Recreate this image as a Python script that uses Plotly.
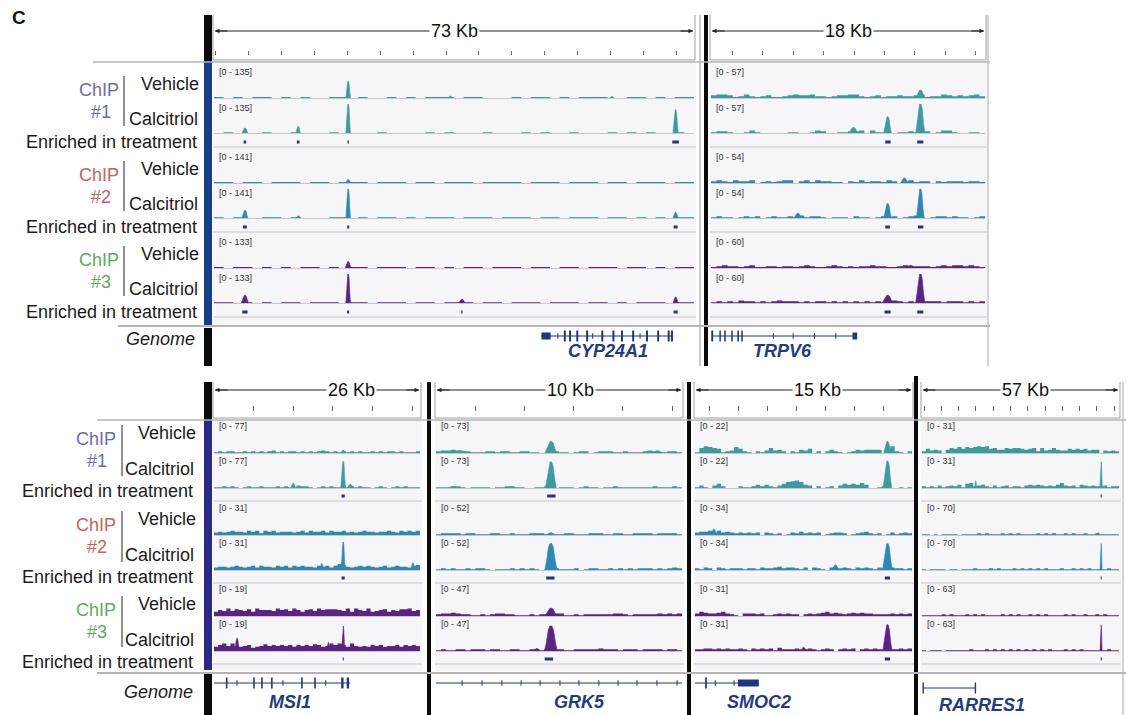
import plotly.graph_objects as go

W, H = 1126, 715

# ---------------- data ----------------
genes = ["CYP24A1", "TRPV6", "MSI1", "GRK5", "SMOC2", "RARRES1"]
span_kb = [73, 18, 26, 10, 15, 57]
span_labels = ["73 Kb", "18 Kb", "26 Kb", "10 Kb", "15 Kb", "57 Kb"]
ruler_tick0_kb = [0.3, 1.4, 0.0, 1.6, 1.0, 0.6]
ruler_dtick_kb = [5, 2, 5, 2, 2, 5]

chip_labels = ["ChIP", "ChIP", "ChIP"]
chip_numbers = ["#1", "#2", "#3"]
track_labels = ["Vehicle", "Calcitriol", "Enriched in treatment"]

# data range of each ChIP (same for Vehicle and Calcitriol tracks)
range_CYP24A1 = [135, 141, 133]
range_TRPV6 = [57, 54, 60]
range_MSI1 = [77, 31, 19]
range_GRK5 = [73, 52, 47]
range_SMOC2 = [22, 34, 31]
range_RARRES1 = [31, 70, 63]

# background coverage, one digit per bin: level = digit * 3 % of the track range
# order: ChIP1 vehicle, ChIP1 calcitriol, ChIP2 vehicle, ChIP2 calcitriol, ChIP3 vehicle, ChIP3 calcitriol
bg_CYP24A1 = [
    "10101101010011010010101110110001011010111001101011",
    "01000100100010000100001010001000101001000101010010",
    "11011011101101110111011011101111011101110110111011",
    "10100110100011010110101110111011101101110110101011",
    "10110101011010110111011010110111011011011101101011",
    "11010101101110110111011011101101110111011010111011",
]
bg_TRPV6 = [
    "34431242123112343342212334421231223223412243232342",
    "12210013100000110013200112230311001121220133100110",
    "23213223012123302313221102131221320231220212221221",
    "12110121201211213122101110211012120123101221211012",
    "12322123112212212321123212122322112322221232332321",
    "12121322121232221212212121212121232121222212221212",
]
bg_MSI1 = [
    "12122112121212312122121212321212121211212122121112",
    "11212101211211121211322101212112121211012101212111",
    "34345443545254534443453544535445343454434454354545",
    "34434543453544354535454435453576434545434534544356",
    "57696876859777697869757869788876959769567857688967",
    "57969656745686767675767687569797596565767566757676",
]
bg_GRK5 = [
    "23343221112212211221100121101220122211211123211221",
    "11122101111011221100112101110121101121111111211121",
    "12222122111221121112221011221112221122112222122221",
    "12121121221011121212101121112012211212121222121232",
    "23343221121233221112122233112122222233212222232323",
    "12112212221221122112212222112222232221222122221221",
]
bg_SMOC2 = [
    "16876512375210213634202143502024210124344440582102",
    "13103520002112424213578974302012035454640012700101",
    "34453534323232303212013242323012332012342120131232",
    "21320321222122132234233213032103223213232132032212",
    "35433453210333231123232202323453432343433222232323",
    "22332323223213232314222322321232023230232322222323",
]
bg_RARRES1 = [
    "25343046575767878564465665456263464335454534403232",
    "21213123241562342131231221343432324632314323223122",
    "11010111101111212111212121111212121121211211211111",
    "10111101101112111212111212121212111211212121111211",
    "11111212111212121111212121121212111121211211212111",
    "10111011111121112121212121212121211121212111111211",
]

# peaks: (centre kb, height in track units, half-width kb), same track order as above
peaks_CYP24A1 = [
    [(20.4, 75, 0.35), (35.9, 9, 0.4), (60.5, 7, 0.4)],
    [(4.7, 23, 0.45), (12.8, 30, 0.35), (20.4, 135, 0.35), (70.2, 108, 0.4)],
    [(20.4, 16, 0.4)],
    [(4.7, 38, 0.45), (12.8, 10, 0.4), (20.4, 141, 0.35), (70.2, 27, 0.4)],
    [(20.4, 28, 0.45)],
    [(4.7, 35, 0.55), (20.4, 133, 0.35), (37.7, 17, 0.5), (70.2, 27, 0.4)],
]
peaks_TRPV6 = [
    [(13.75, 15, 0.3)],
    [(9.35, 11, 0.3), (11.6, 32, 0.25), (13.75, 57, 0.3)],
    [(12.7, 9, 0.25)],
    [(5.7, 9, 0.25), (11.6, 27, 0.25), (13.75, 54, 0.25)],
    [(13.1, 5, 0.3)],
    [(11.6, 16, 0.35), (13.75, 60, 0.3)],
]
peaks_MSI1 = [
    [(16.3, 8, 0.3)],
    [(10.0, 13, 0.3), (16.3, 73, 0.3), (17.2, 10, 0.4)],
    [],
    [(13.6, 7, 0.25), (16.3, 31, 0.25), (25.1, 8, 0.25)],
    [],
    [(2.9, 8.5, 0.3), (14.4, 6, 0.2), (16.3, 17, 0.2)],
]
peaks_GRK5 = [
    [(1.0, 6, 0.35), (4.67, 30, 0.24), (9.0, 6, 0.25)],
    [(0.7, 3.5, 0.2), (4.67, 68, 0.22)],
    [(4.67, 4, 0.2)],
    [(4.67, 49, 0.25)],
    [(4.67, 13, 0.25)],
    [(4.1, 4, 0.15), (4.67, 42, 0.26)],
]
peaks_SMOC2 = [
    [(13.3, 9, 0.25)],
    [(13.3, 21, 0.3)],
    [(1.3, 7, 0.2)],
    [(9.7, 6, 0.25), (13.3, 32, 0.34)],
    [],
    [(7.5, 4, 0.2), (13.3, 29, 0.32)],
]
peaks_RARRES1 = [
    [],
    [(15.5, 8, 0.3), (51.8, 29, 0.35)],
    [(51.0, 6, 0.4)],
    [(51.8, 66, 0.3)],
    [],
    [(51.8, 59, 0.3)],
]

# enriched-in-treatment regions (start kb, end kb) for ChIP1..3
enriched_CYP24A1 = [[(4.5, 4.9), (12.6, 13.0), (20.3, 20.5), (69.7, 70.7)],
                    [(4.4, 5.0), (20.25, 20.55), (69.9, 70.5)],
                    [(4.3, 5.1), (20.25, 20.55), (37.6, 37.8), (69.9, 70.5)]]
enriched_TRPV6 = [[(11.45, 11.8), (13.55, 13.95)],
                  [(11.45, 11.75), (13.6, 13.95)],
                  [(11.4, 11.8), (13.55, 13.95)]]
enriched_MSI1 = [[(16.1, 16.5)], [(16.1, 16.5)], [(16.25, 16.38)]]
enriched_GRK5 = [[(4.52, 4.86)], [(4.48, 4.82)], [(4.42, 4.76)]]
enriched_SMOC2 = [[], [(13.12, 13.48)], [(13.12, 13.48)]]
enriched_RARRES1 = [[(51.7, 52.0)], [(51.7, 52.0)], [(51.7, 52.0)]]

# gene models (kb): intron span, exons, thick UTR blocks, strand marks, label position
gene_CYP24A1 = dict(span=(49.8, 69.8),
                    exons=[(53.2, 53.5), (54.0, 54.3), (55.1, 55.4), (56.6, 56.9), (58.9, 59.2),
                           (60.6, 60.9), (61.9, 62.2), (63.6, 63.9), (65.7, 66.0), (67.4, 67.7),
                           (69.0, 69.3), (69.5, 69.8)],
                    blocks=[(49.8, 51.2)], marks=[52.3, 57.6, 64.8], label_kb=59.9)
gene_TRPV6 = dict(span=(0.07, 9.6),
                  exons=[(0.02, 0.14), (0.55, 0.65), (0.87, 0.97), (1.33, 1.43), (1.73, 1.83), (1.99, 2.09)],
                  blocks=[(9.3, 9.6)], marks=[4.1, 5.4, 6.8, 8.2], label_kb=4.7)
gene_MSI1 = dict(span=(0.0, 17.2),
                 exons=[(1.5, 1.7), (4.95, 5.15), (5.95, 6.15), (7.2, 7.4), (11.0, 11.2),
                        (12.65, 12.85), (16.05, 16.35), (16.75, 17.05)],
                 blocks=[], marks=[2.9, 8.7, 14.1], label_kb=9.6)
gene_GRK5 = dict(span=(0.0, 10.0), exons=[], blocks=[],
                 marks=[1.06, 1.87, 2.68, 3.46, 4.23, 5.04, 5.81, 6.62, 7.4, 8.17, 8.98, 9.8],
                 label_kb=5.85)
gene_SMOC2 = dict(span=(-0.05, 4.4), exons=[(0.7, 0.82)], blocks=[(2.97, 4.41)],
                  marks=[1.4, 2.7], label_kb=4.4)
gene_RARRES1 = dict(span=(0.3, 15.5), exons=[(0.15, 0.55), (15.25, 15.65)], blocks=[],
                    marks=[], label_kb=17.5)

ranges = [range_CYP24A1, range_TRPV6, range_MSI1, range_GRK5, range_SMOC2, range_RARRES1]
backgrounds = [bg_CYP24A1, bg_TRPV6, bg_MSI1, bg_GRK5, bg_SMOC2, bg_RARRES1]
peaks = [peaks_CYP24A1, peaks_TRPV6, peaks_MSI1, peaks_GRK5, peaks_SMOC2, peaks_RARRES1]
enriched = [enriched_CYP24A1, enriched_TRPV6, enriched_MSI1, enriched_GRK5, enriched_SMOC2, enriched_RARRES1]
gene_models = [gene_CYP24A1, gene_TRPV6, gene_MSI1, gene_GRK5, gene_SMOC2, gene_RARRES1]

# ---------------- style / layout ----------------
FONT = "Liberation Sans, Arial, Helvetica, sans-serif"
TRACK_COLORS = ["#3a9c9f", "#2a89b5", "#5a2384"]
CHIP_COLORS = ["#6b6bb5", "#cb615d", "#5cab5c"]
ENR_COLOR = "#2b2d8a"
GENE_COLOR = "#1e3585"
NAME_COLOR = "#1f3a88"
BG_LEVEL = 0.03
# peak glyph outline (relative offset, relative height)
PEAK_PROFILE = [(-1.0, 0.0), (-0.7, 0.35), (-0.4, 0.85), (-0.15, 1.0), (0.15, 1.0),
                (0.4, 0.85), (0.7, 0.35), (1.0, 0.0)]

# pixel geometry of each panel
PANEL_X = [(214, 694), (711, 985), (214, 420), (436, 682), (695, 912), (922, 1119)]
PANEL_ROW = [0, 0, 1, 1, 1, 1]
KB_LABEL_X = [455, 848, 351, 570, 817, 1025]
ROWS = [
    dict(g0=[62, 147, 232], veh=(6, 36), calc=(42, 71), enr=80, sep=85, lab=(10, 46),
         rtop=15, rbot=60, arrow=31, ticky=55, ticklen=4, gline=336, gname=351,
         bgtop=62, bgbot=325),
    dict(g0=[420, 502, 583], veh=(5, 33), calc=(40, 68), enr=76, sep=81, lab=(6, 41),
         rtop=382, rbot=418, arrow=390, ticky=411, ticklen=5, gline=683, gname=702,
         bgtop=420, bgbot=671),
]
GLINE_OVERRIDE = {5: 688}


def X(p):
    return p / W


def Y(p):
    return 1 - p / H


fig = go.Figure()
axes = {}
counter = [0]


def add_axes(x0, x1, ytop, ybot, xr, yr, xextra=None):
    counter[0] += 1
    k = counter[0]
    s = "" if k == 1 else str(k)
    xa = dict(domain=[X(x0), X(x1)], range=xr, anchor="y" + s, visible=False, fixedrange=True)
    if xextra:
        xa.update(xextra)
    ya = dict(domain=[Y(ybot), Y(ytop)], range=yr, anchor="x" + s, visible=False, fixedrange=True)
    axes["xaxis" + s] = xa
    axes["yaxis" + s] = ya
    return "x" + s, "y" + s


shapes = []
annotations = []


def line(x0, y0, x1, y1, color, width):
    shapes.append(dict(type="line", xref="paper", yref="paper", x0=X(x0), y0=Y(y0), x1=X(x1), y1=Y(y1),
                       line=dict(color=color, width=width), layer="above"))


def rect(x0, y0, x1, y1, fill, lc=None, lw=0, layer="below"):
    shapes.append(dict(type="rect", xref="paper", yref="paper", x0=X(x0), y0=Y(y0), x1=X(x1), y1=Y(y1),
                       fillcolor=fill, line=dict(color=lc or fill, width=lw), layer=layer))


def text(x, y, s, size, color="#1a1a1a", anchor="right", family=FONT, bg=None):
    d = dict(xref="paper", yref="paper", x=X(x), y=Y(y), text=s, showarrow=False,
             xanchor=anchor, yanchor="middle", font=dict(family=family, size=size, color=color))
    if bg:
        d["bgcolor"] = bg
    annotations.append(d)


baseline_x = dict(visible=True, showline=True, linecolor="#c8c8c8", linewidth=1, showticklabels=False,
                  ticks="", showgrid=False, zeroline=False)

for p, name in enumerate(genes):
    x0, x1 = PANEL_X[p]
    row = ROWS[PANEL_ROW[p]]
    kb = span_kb[p]

    # panel background
    rect(x0 - 1, row["bgtop"], x1 + 2, row["bgbot"], "#f6f6f8")

    # ruler
    rx, ry = add_axes(x0, x1, row["ticky"] - 15, row["ticky"], [0, kb], [0, 1],
                      dict(visible=True, showline=False, showgrid=False, zeroline=False,
                           showticklabels=False, ticks="inside", ticklen=row["ticklen"],
                           tickcolor="#666", tickwidth=1, tick0=ruler_tick0_kb[p],
                           dtick=ruler_dtick_kb[p], side="bottom"))
    fig.add_trace(go.Scatter(x=[0, kb], y=[0, 0], mode="markers", marker=dict(opacity=0),
                             xaxis=rx, yaxis=ry, hoverinfo="skip", showlegend=False))
    line(x0 - 1, row["rtop"], x0 - 1, row["rbot"], "#a0a0a0", 1)
    line(x1 + 1, row["rtop"], x1 + 1, row["rbot"], "#a0a0a0", 1)
    line(x0 - 1, row["rbot"], x1 + 1, row["rbot"], "#a0a0a0", 1)
    line(x0 + 1, row["arrow"], x1 - 1, row["arrow"], "#222", 1)
    for xe, axoff in ((x0 + 1, 14), (x1 - 1, -14)):
        annotations.append(dict(xref="paper", yref="paper", x=X(xe), y=Y(row["arrow"]), text="",
                                showarrow=True, ax=axoff, ay=0, arrowhead=2, arrowsize=0.9,
                                arrowwidth=1, arrowcolor="#222"))
    text(KB_LABEL_X[p], row["arrow"], span_labels[p], 18, "#111", anchor="center", bg="white")

    # tracks
    for g in range(3):
        y0 = row["g0"][g]
        scale = ranges[p][g]
        color = TRACK_COLORS[g]
        for t, (tt, tb) in enumerate((row["veh"], row["calc"])):
            idx = 2 * g + t
            tx, ty = add_axes(x0, x1, y0 + tt, y0 + tb, [0, kb], [0, scale], baseline_x)
            levels = [int(c) * BG_LEVEL * scale for c in backgrounds[p][idx]]
            bw = kb / len(levels)
            xs = [i * bw for i in range(len(levels) + 1)]
            ys = levels + [levels[-1]]
            fig.add_trace(go.Scatter(x=xs, y=ys, mode="lines", line=dict(width=0, shape="hv", color=color),
                                     fill="tozeroy", fillcolor=color, xaxis=tx, yaxis=ty,
                                     hoverinfo="skip", showlegend=False))
            px_, py_ = [], []
            for c, h, w in peaks[p][idx]:
                for dx, dy in PEAK_PROFILE:
                    px_.append(c + dx * w)
                    py_.append(h * dy)
                px_.append(None)
                py_.append(None)
            if px_:
                fig.add_trace(go.Scatter(x=px_, y=py_, mode="lines", line=dict(width=0.6, color=color),
                                         fill="toself", fillcolor=color, xaxis=tx, yaxis=ty,
                                         hoverinfo="skip", showlegend=False))
            lab_y = y0 + row["lab"][t]
            text(x0 + 3, lab_y, "[0 - %d]" % scale, 9, "#333", anchor="left")
        # enriched
        ex, ey = add_axes(x0, x1, y0 + row["enr"] - 4, y0 + row["enr"] + 4, [0, kb], [0, 1])
        xs, ys = [], []
        for s0, s1 in enriched[p][g]:
            xs += [s0, s1, None]
            ys += [0.5, 0.5, None]
        if xs:
            fig.add_trace(go.Scatter(x=xs, y=ys, mode="lines", line=dict(width=3, color=ENR_COLOR),
                                     xaxis=ex, yaxis=ey, hoverinfo="skip", showlegend=False))
        line(x0 - 1, y0 + row["sep"], x1 + 2, y0 + row["sep"], "#d6d6d8", 1.5)

    # genome row
    gy = GLINE_OVERRIDE.get(p, row["gline"])
    gx, gyax = add_axes(x0, x1, gy - 7, gy + 7, [0, kb], [-1, 1])
    gm = gene_models[p]
    fig.add_trace(go.Scatter(x=list(gm["span"]), y=[0, 0], mode="lines", line=dict(width=1, color=GENE_COLOR),
                             xaxis=gx, yaxis=gyax, hoverinfo="skip", showlegend=False))
    if gm["marks"]:
        fig.add_trace(go.Scatter(x=gm["marks"], y=[0] * len(gm["marks"]), mode="markers",
                                 marker=dict(symbol="line-ns", size=4, line=dict(width=1, color=GENE_COLOR)),
                                 xaxis=gx, yaxis=gyax, hoverinfo="skip", showlegend=False))
    for key, wid in (("exons", 11), ("blocks", 7)):
        xs, ys = [], []
        for s0, s1 in gm[key]:
            xs += [s0, s1, None]
            ys += [0, 0, None]
        if xs:
            fig.add_trace(go.Scatter(x=xs, y=ys, mode="lines", line=dict(width=wid, color=GENE_COLOR),
                                     xaxis=gx, yaxis=gyax, hoverinfo="skip", showlegend=False))
    annotations.append(dict(xref=gx, yref="paper", x=gm["label_kb"], y=Y(row["gname"] + (3 if p == 5 else 0)),
                            text="<b><i>%s</i></b>" % name, showarrow=False, xanchor="center",
                            yanchor="middle", font=dict(family=FONT, size=18, color=NAME_COLOR)))

# ---- frame decorations ----
# left bars
rect(204, 15, 212, 62, "#0a0a0a", layer="above")
rect(204, 62, 212, 325, "#153f8b", layer="above")
rect(204, 328, 212, 366, "#0a0a0a", layer="above")
rect(204, 382, 212, 420, "#0a0a0a", layer="above")
rect(204, 420, 212, 670, "#29298a", layer="above")
rect(204, 674, 212, 715, "#0a0a0a", layer="above")
# panel separators
rect(704, 15, 708, 366, "#0a0a0a", layer="above")
line(700, 15, 700, 366, "#9a9a9a", 1)
rect(427, 382, 431, 715, "#0a0a0a", layer="above")
rect(687, 382, 691, 715, "#0a0a0a", layer="above")
rect(914, 376, 918, 715, "#0a0a0a", layer="above")
line(988, 15, 988, 366, "#a8a8a8", 1)
line(1123, 382, 1123, 715, "#a8a8a8", 1)
# horizontal rules
line(93, 62, 990, 62, "#b5b5b5", 1.5)
line(118, 326, 990, 326, "#b5b5b5", 2)
line(97, 420, 1126, 420, "#b5b5b5", 1.5)
line(97, 673, 1126, 673, "#b5b5b5", 2)

# panel letter
text(10, 18, "<b>C</b>", 19, "#111", anchor="left")

# left-side track labels
LEFT = [
    dict(g0=[62, 147, 232], veh=22, chip=28, num=50, calc=57, enr=80, br=(14, 64),
         x_chip=121, x_num=101, x_br=124, x_veh=201, x_calc=200, x_enr=199, genome=(197, 339)),
    dict(g0=[420, 506, 591], veh=13, chip=19, num=41, calc=49, enr=71, br=(5, 56),
         x_chip=118, x_num=97, x_br=122, x_veh=198, x_calc=196, x_enr=195, genome=(195, 692)),
]
for L in LEFT:
    for g, y0 in enumerate(L["g0"]):
        text(L["x_chip"], y0 + L["chip"], chip_labels[g], 18, CHIP_COLORS[g])
        text(L["x_num"], y0 + L["num"], chip_numbers[g], 18, CHIP_COLORS[g], anchor="center")
        line(L["x_br"], y0 + L["br"][0], L["x_br"], y0 + L["br"][1], "#222", 1)
        text(L["x_veh"], y0 + L["veh"], track_labels[0], 18)
        text(L["x_calc"], y0 + L["calc"], track_labels[1], 18)
        text(L["x_enr"], y0 + L["enr"], track_labels[2], 18)
    text(L["genome"][0], L["genome"][1], "<i>Genome</i>", 18)

fig.update_layout(width=W, height=H, margin=dict(l=0, r=0, t=0, b=0), paper_bgcolor="white",
                  plot_bgcolor="rgba(0,0,0,0)", showlegend=False, shapes=shapes,
                  annotations=annotations, font=dict(family=FONT), **axes)

fig.write_html("out.html", config={"displayModeBar": False, "staticPlot": True},
               post_script="document.body.style.margin='0';document.body.style.overflow='hidden';")
